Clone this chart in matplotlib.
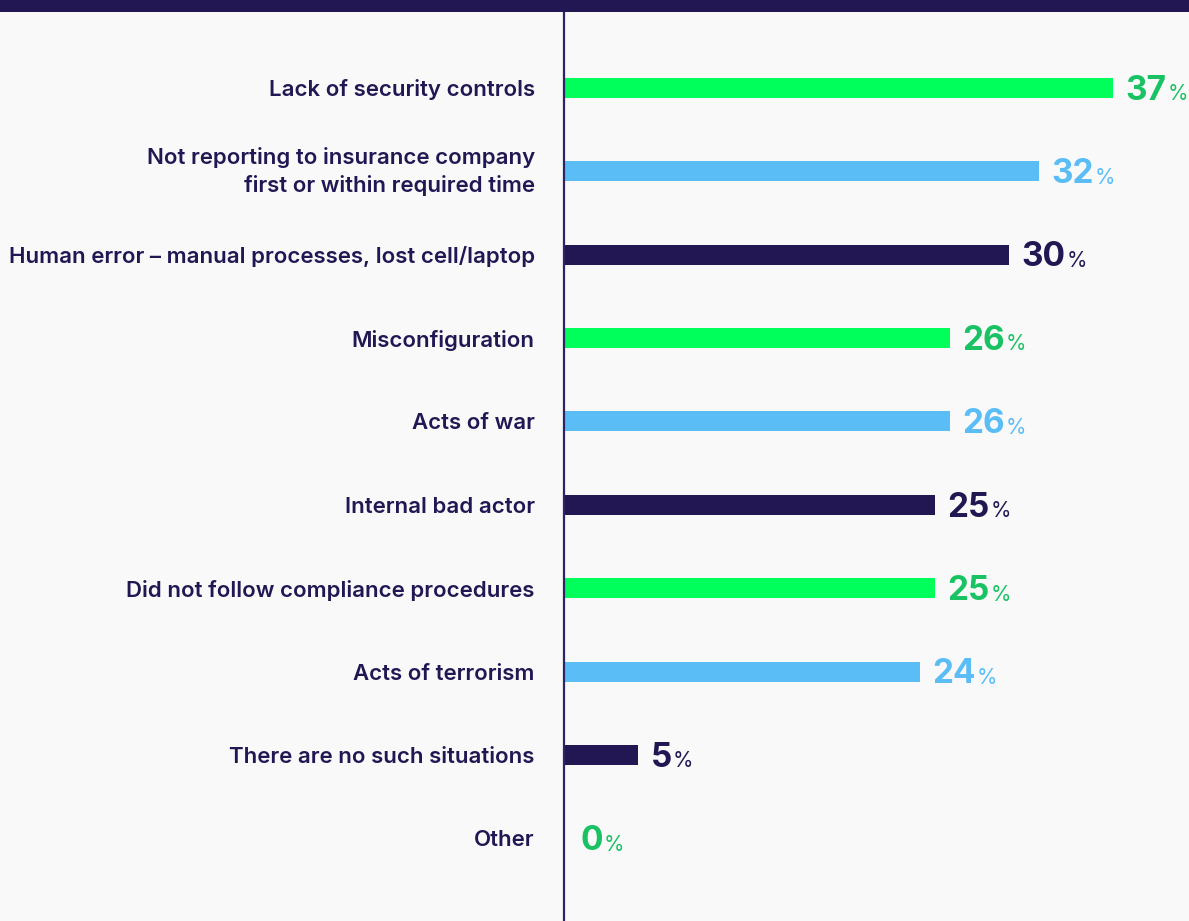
#!/usr/bin/env python3
"""Horizontal bar chart: causes of rejected cyber insurance claims."""

import matplotlib
import matplotlib.pyplot as plt
from matplotlib.patches import Rectangle

matplotlib.rcParams.update({"font.family": ["Inter", "DejaVu Sans"]})

categories = [
    "Lack of security controls",
    "Not reporting to insurance company\nfirst or within required time",
    "Human error \u2013 manual processes, lost cell/laptop",
    "Misconfiguration",
    "Acts of war",
    "Internal bad actor",
    "Did not follow compliance procedures",
    "Acts of terrorism",
    "There are no such situations",
    "Other",
]
values = [37, 32, 30, 26, 26, 25, 25, 24, 5, 0]

NAVY = "#221753"
GREEN = "#00ff5a"
BLUE = "#5bbdf6"
GREEN_TXT = "#19c262"
BG = "#f9f9fa"

bar_colors = [GREEN, BLUE, NAVY] * 4
text_colors = [GREEN_TXT, BLUE, NAVY] * 4

W, H = 1189, 921
fig = plt.figure(figsize=(W / 100, H / 100), dpi=100, facecolor=BG)
ax = fig.add_axes([564 / W, 0, 1 - 564 / W, 1 - 12 / H])
ax.set_facecolor(BG)

# top band
fig.patches.append(
    Rectangle((0, 1 - 12 / H), 1, 12 / H, transform=fig.transFigure,
              facecolor=NAVY, edgecolor="none", zorder=5)
)

y = list(range(len(categories)))
bars = ax.barh(y, values, height=0.24, color=bar_colors[: len(values)])

for i, (bar, v) in enumerate(zip(bars, values)):
    num = ax.annotate(
        f"{v}",
        xy=(v, i),
        xytext=(9 if v > 0 else 12, -2),
        textcoords="offset points",
        ha="left",
        va="center",
        fontsize=24,
        fontweight="bold",
        color=text_colors[i],
    )
    ax.annotate(
        "%",
        xy=(1, 0),
        xycoords=num,
        xytext=(0.5, 1.8),
        textcoords="offset points",
        ha="left",
        va="bottom",
        fontsize=15,
        fontweight="normal",
        color=text_colors[i],
    )

ax.set_xlim(0, (W - 564) / 14.84)
ax.set_ylim(9.99, -0.91)

ax.set_yticks(y)
ax.set_yticklabels(categories, fontsize=16, fontweight="semibold",
                   color=NAVY, linespacing=1.4)
for lbl in ax.get_yticklabels():
    if "\n" in lbl.get_text():
        lbl.set_va("center")
ax.tick_params(axis="y", length=0, pad=21)
ax.set_xticks([])

for s in ["top", "right", "bottom"]:
    ax.spines[s].set_visible(False)
ax.spines["left"].set_color("#2d2466")
ax.spines["left"].set_linewidth(1.6)

fig.savefig("out.png", dpi=100, facecolor=BG)
